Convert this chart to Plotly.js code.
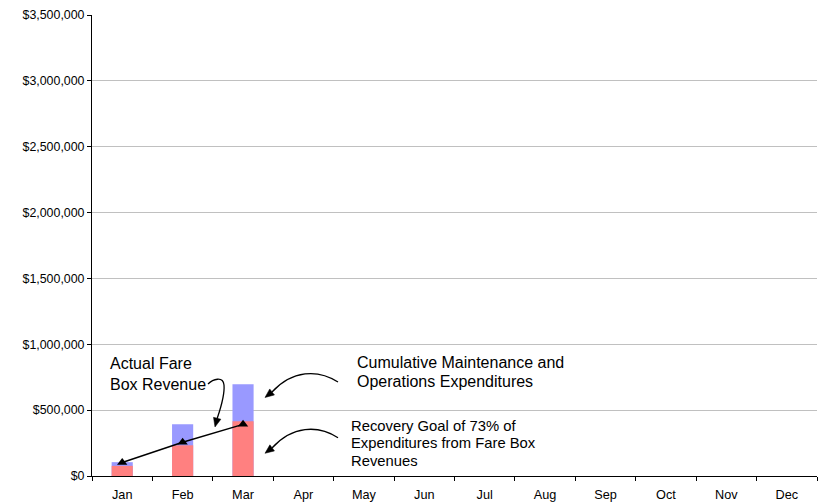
<!DOCTYPE html>
<html>
<head>
<meta charset="utf-8">
<script src="https://cdn.plot.ly/plotly-3.0.1.min.js"></script>
<style>
  html, body { margin: 0; padding: 0; background: #fff; }
  #chart { width: 819px; height: 502px; }
</style>
</head>
<body>
<div id="chart"></div>
<script>
// Monthly cumulative figures (USD)
const months = ['Jan', 'Feb', 'Mar', 'Apr', 'May', 'Jun', 'Jul', 'Aug', 'Sep', 'Oct', 'Nov', 'Dec'];
const expenditures = [105000, 393000, 697000, null, null, null, null, null, null, null, null, null];
const recoveryGoal = [77000, 233000, 416000, null, null, null, null, null, null, null, null, null];
const fareBoxRevenue = [102000, 256000, 392000, null, null, null, null, null, null, null, null, null];
const yTicks = [0, 500000, 1000000, 1500000, 2000000, 2500000, 3000000, 3500000];
const yTickText = yTicks.map(v => '$' + v.toLocaleString('en-US'));

// Plot area in pixels, used to place callout text and curved leader arrows
const M = { l: 92, r: 2, t: 15, b: 26 };
const W = 819, H = 502;
const PW = W - M.l - M.r, PH = H - M.t - M.b;
const px = x => (x - M.l) / PW;
const py = y => (H - M.b - y) / PH;
const pt = (x, y) => px(x).toFixed(5) + ',' + py(y).toFixed(5);

function curve(points) {
  // points: [start, c1, c2, end, c1, c2, end, ...] in pixels
  let d = 'M' + pt(points[0][0], points[0][1]);
  for (let i = 1; i < points.length; i += 3) {
    d += ' C' + pt(points[i][0], points[i][1]) + ' ' +
         pt(points[i + 1][0], points[i + 1][1]) + ' ' +
         pt(points[i + 2][0], points[i + 2][1]);
  }
  return d;
}
function head(tip, from, len, half) {
  const dx = tip[0] - from[0], dy = tip[1] - from[1];
  const n = Math.hypot(dx, dy), ux = dx / n, uy = dy / n;
  const bx = tip[0] - ux * len, by = tip[1] - uy * len;
  return 'M' + pt(tip[0], tip[1]) +
         ' L' + pt(bx - uy * half, by + ux * half) +
         ' L' + pt(bx + uy * half, by - ux * half) + ' Z';
}

const lineStyle = { color: '#000', width: 1.3 };
const shapes = [];
function arrow(pts, tip) {
  shapes.push({ type: 'path', xref: 'paper', yref: 'paper', path: curve(pts), line: lineStyle });
  const last = pts[pts.length - 1];
  shapes.push({ type: 'path', xref: 'paper', yref: 'paper', path: head(tip, last, 9, 3.8),
                fillcolor: '#000', line: { color: '#000', width: 0.5 } });
}
// "Actual Fare Box Revenue" leader
arrow([[208, 384], [213, 379], [223, 376], [224, 385], [225, 396], [220, 410], [217, 419]], [215, 427]);
// "Cumulative Maintenance..." leader
arrow([[338, 382], [318, 369], [292, 370], [272, 392]], [265, 397.5]);
// "Recovery Goal..." leader
arrow([[338, 437.7], [318, 424.7], [292, 425.7], [272, 448]], [265, 453.3]);

const annotations = [];
function label(text, x, yMid, size) {
  annotations.push({ text: text, xref: 'paper', yref: 'paper', x: px(x), y: py(yMid),
    xanchor: 'left', yanchor: 'middle', showarrow: false, align: 'left',
    borderpad: 0, font: { family: 'Liberation Sans, Arial, sans-serif', size: size, color: '#000' } });
}
label('Actual Fare', 108.5, 363.5, 16);
label('Box Revenue', 108.5, 384.5, 16);
label('Cumulative Maintenance and', 356, 362.5, 16);
label('Operations Expenditures', 356, 381.8, 16);
label('Recovery Goal of 73% of', 350, 425.5, 14.8);
label('Expenditures from Fare Box', 350, 443.2, 14.8);
label('Revenues', 350, 461, 14.8);

const data = [
  { type: 'bar', name: 'Cumulative Maintenance and Operations Expenditures',
    x: months, y: expenditures, width: 0.35, marker: { color: '#9999FF' } },
  { type: 'bar', name: 'Recovery Goal of 73% of Expenditures from Fare Box Revenues',
    x: months, y: recoveryGoal, width: 0.35, marker: { color: '#FF8080' } },
  { type: 'scatter', mode: 'lines+markers', name: 'Actual Fare Box Revenue',
    x: months, y: fareBoxRevenue, line: { color: '#000', width: 1.5 },
    marker: { symbol: 'triangle-up', size: 9, color: '#000' } }
];

const layout = {
  width: W, height: H,
  margin: M,
  paper_bgcolor: '#fff', plot_bgcolor: '#fff',
  showlegend: false,
  barmode: 'overlay',
  font: { family: 'Liberation Sans, Arial, sans-serif', size: 12.5, color: '#000' },
  xaxis: {
    type: 'category', categoryorder: 'array', categoryarray: months,
    range: [-0.5, 11.5], tickson: 'boundaries',
    showline: true, linecolor: '#000', linewidth: 1,
    ticks: 'outside', ticklen: 4, tickcolor: '#000', ticklabelstandoff: 7,
    tickfont: { size: 12.7 },
    showgrid: false, zeroline: false, fixedrange: true
  },
  yaxis: {
    range: [0, 3500000], tickvals: yTicks, ticktext: yTickText,
    showline: true, linecolor: '#000', linewidth: 1,
    ticks: 'outside', ticklen: 4, tickcolor: '#000',
    tickfont: { size: 12.4 },
    showgrid: true, gridcolor: '#c0c0c0', gridwidth: 1,
    zeroline: false, fixedrange: true
  },
  shapes: shapes,
  annotations: annotations
};

Plotly.newPlot('chart', data, layout, { displayModeBar: false, staticPlot: true });
</script>
</body>
</html>
